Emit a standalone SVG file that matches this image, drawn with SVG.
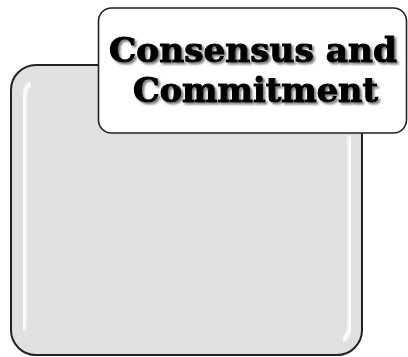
<svg xmlns="http://www.w3.org/2000/svg" width="408" height="357" viewBox="0 0 408 357">
  <defs>
    <style>
      .panel { fill: #e0e0e0; stroke: #222; stroke-width: 2; }
      .hl { fill: none; stroke: #ffffff; stroke-width: 4.5; stroke-linecap: round; }
      .label { fill: #ffffff; stroke: #222; stroke-width: 1.6; }
      .title { font-family: "DejaVu Serif", "Liberation Serif", serif; font-weight: bold; font-size: 34px; fill: #000; stroke: #000; stroke-width: 1.1; filter: url(#drop); }
    </style>
    <filter id="soft" x="-10%" y="-10%" width="120%" height="120%">
      <feGaussianBlur stdDeviation="0.8"/>
    </filter>
    <filter id="drop" x="-20%" y="-50%" width="140%" height="200%">
      <feDropShadow dx="2" dy="2" stdDeviation="1" flood-color="#555" flood-opacity="0.8"/>
    </filter>
  </defs>
  <g id="panel">
    <rect class="panel" x="11" y="65" width="351" height="290" rx="25" ry="25"/>
    <path class="hl" filter="url(#soft)" d="M24,100 Q24,88 30,84 M24,100 L24,328"/>
    <path class="hl" filter="url(#soft)" d="M350,138 L350,325 Q350,334 344,339"/>
  </g>
  <g id="label">
    <rect class="label" x="98.5" y="8" width="308" height="125" rx="13" ry="13"/>
    <text class="title" x="109" y="62" textLength="288" lengthAdjust="spacingAndGlyphs">Consensus and</text>
    <text class="title" x="133" y="102" textLength="245" lengthAdjust="spacingAndGlyphs">Commitment</text>
  </g>
</svg>
